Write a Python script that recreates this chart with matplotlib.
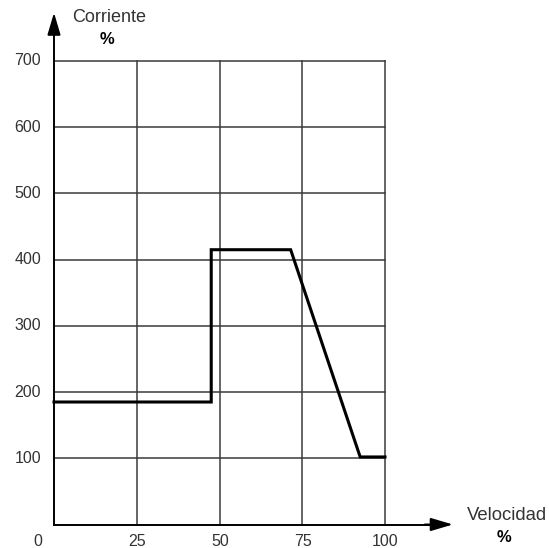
import matplotlib
matplotlib.use("Agg")
import matplotlib.pyplot as plt

plt.rcParams['font.family'] = ['Liberation Sans', 'DejaVu Sans']

# Data
velocidad = [0, 47.5, 47.5, 71.5, 92.5, 100]
corriente = [185, 185, 415, 415, 102, 102]
x_ticks = [0, 25, 50, 75, 100]
y_ticks = [100, 200, 300, 400, 500, 600, 700]
x_tick_labels = ["0", "25", "50", "75", "100"]
y_tick_labels = ["100", "200", "300", "400", "500", "600", "700"]

W, H = 549, 548
fig = plt.figure(figsize=(W / 100, H / 100), dpi=100)
x0, x1 = 54, 385
y0, y1 = 524.5, 61
ax = fig.add_axes([x0 / W, 1 - y0 / H, (x1 - x0) / W, (y0 - y1) / H])
ax.set_xlim(0, 100)
ax.set_ylim(0, 700)

grid_c = '#3a3a3a'
for xv in x_ticks[1:]:
    ax.axvline(xv, color=grid_c, lw=1.1, zorder=1, clip_on=False)
for yv in y_ticks:
    ax.axhline(yv, color=grid_c, lw=1.1, zorder=1, clip_on=False)

ax.plot(velocidad, corriente, color='black', lw=2.2, zorder=3,
        solid_joinstyle='miter', clip_on=False)

for s in ax.spines.values():
    s.set_visible(False)
ax.set_xticks([])
ax.set_yticks([])

# Axes with arrows
ax.plot([0, 0], [0, 745], color='black', lw=1.4, clip_on=False, zorder=4)
ax.plot([0, 115], [0, 0], color='black', lw=1.4, clip_on=False, zorder=4)
ax.annotate('', xy=(0, 773), xytext=(0, 740), xycoords='data',
            arrowprops=dict(arrowstyle='-|>,head_length=1.35,head_width=0.4',
                            color='black', lw=1.4, shrinkA=0, shrinkB=0),
            annotation_clip=False)
ax.annotate('', xy=(120.5, 0), xytext=(112, 0), xycoords='data',
            arrowprops=dict(arrowstyle='-|>,head_length=1.35,head_width=0.4',
                            color='black', lw=1.4, shrinkA=0, shrinkB=0),
            annotation_clip=False)

txt_c = '#333333'
# y tick labels
for yv, lab in zip(y_ticks, y_tick_labels):
    ax.text(-3.9, yv, lab, ha='right', va='center', fontsize=11.5, color=txt_c)
# x tick labels
xlab_px = [38, 137, 220, 303, 385]
for px, lab in zip(xlab_px, x_tick_labels):
    fig.text(px / W, 1 - 542 / H, lab, ha='center', va='center', fontsize=11.5, color=txt_c)

fig.text(72 / W, 1 - 17.5 / H, 'Corriente', ha='left', va='center', fontsize=13, color=txt_c)
fig.text(107 / W, 1 - 39 / H, '%', ha='center', va='center', fontsize=12,
         fontweight='bold', color='black')
fig.text(467 / W, 1 - 516 / H, 'Velocidad', ha='left', va='center', fontsize=13.3, color=txt_c)
fig.text(504 / W, 1 - 538 / H, '%', ha='center', va='center', fontsize=12,
         fontweight='bold', color='black')

fig.savefig('out.png', dpi=100, facecolor='white')
